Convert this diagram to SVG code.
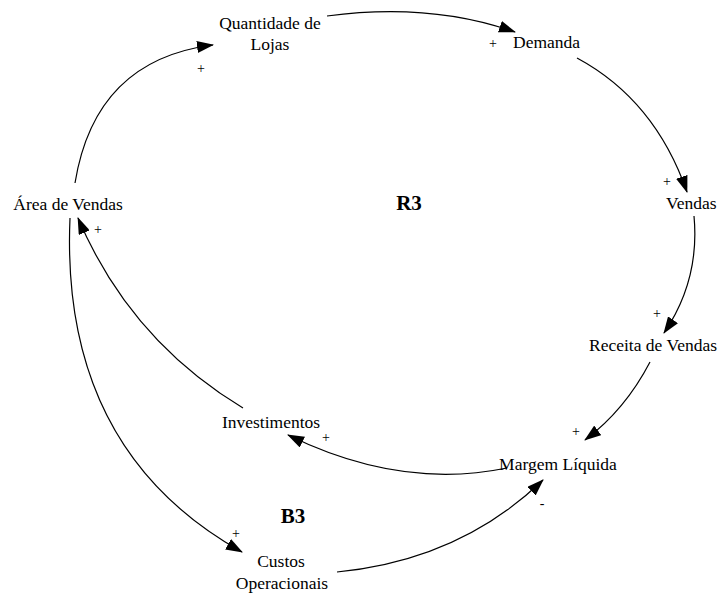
<svg xmlns="http://www.w3.org/2000/svg" width="725" height="594" viewBox="0 0 725 594" font-family="'Liberation Serif', 'DejaVu Serif', serif">
<style>
text{font-family:"Liberation Serif","DejaVu Serif",serif;font-size:17.5px;fill:#000}
.c{text-anchor:middle}
.s{font-size:14px}
.b{font-size:21px;font-weight:bold}
.e{fill:none;stroke:#000;stroke-width:1.2}
</style>
<defs>
<marker id="ah" markerUnits="userSpaceOnUse" markerWidth="18" markerHeight="12" refX="16" refY="6" orient="auto">
<path d="M0,0 L17,6 L0,12 Z" fill="#000"/>
</marker>
</defs>
<rect width="725" height="594" fill="#fff"/>
<g id="connectors">
<path class="e" marker-end="url(#ah)" d="M327 16 Q430 2 515 32"/>
<path class="e" marker-end="url(#ah)" d="M577 58 Q655 100 687 192"/>
<path class="e" marker-end="url(#ah)" d="M694 216 Q700 280 664 333"/>
<path class="e" marker-end="url(#ah)" d="M650 362 Q625 410 585 440"/>
<path class="e" marker-end="url(#ah)" d="M507 468 Q400 490 288 435"/>
<path class="e" marker-end="url(#ah)" d="M243 408 Q130 340 78 218"/>
<path class="e" marker-end="url(#ah)" d="M75 183 Q95 60 213 45"/>
<path class="e" marker-end="url(#ah)" d="M70 218 Q60 450 242 552"/>
<path class="e" marker-end="url(#ah)" d="M337 572 Q460 560 543 480"/>
<text class="c s" x="201" y="73">+</text>
<text class="c s" x="493" y="48">+</text>
<text class="c s" x="667" y="186">+</text>
<text class="c s" x="657" y="318">+</text>
<text class="c s" x="576" y="436">+</text>
<text class="c s" x="326" y="442">+</text>
<text class="c s" x="98" y="234">+</text>
<text class="c s" x="236" y="538">+</text>
<text class="c s" x="542" y="508">-</text>
</g>
<g id="quantidade"><text class="c" x="270" y="29">Quantidade de</text><text class="c" x="270" y="50">Lojas</text></g>
<g id="demanda"><text x="513" y="48">Demanda</text></g>
<g id="vendas"><text x="666" y="209">Vendas</text></g>
<g id="receita"><text class="c" x="653" y="351">Receita de Vendas</text></g>
<g id="margem"><text class="c" x="558" y="470">Margem Líquida</text></g>
<g id="investimentos"><text class="c" x="271" y="428">Investimentos</text></g>
<g id="area"><text class="c" x="68" y="210">Área de Vendas</text></g>
<g id="custos"><text class="c" x="281" y="567">Custos</text><text class="c" x="282" y="589">Operacionais</text></g>
<g id="loops"><text class="c b" x="409" y="210">R3</text><text class="c b" x="293" y="523">B3</text></g>
</svg>
